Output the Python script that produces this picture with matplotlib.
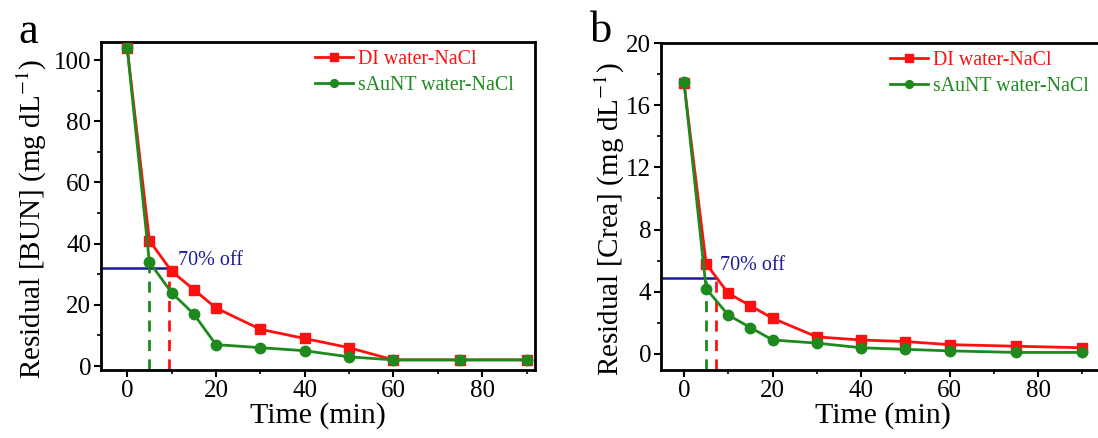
import matplotlib
matplotlib.use("Agg")
import matplotlib.pyplot as plt
from matplotlib.ticker import MultipleLocator

plt.rcParams["font.family"] = ["Liberation Serif", "DejaVu Serif"]
plt.rcParams["mathtext.fontset"] = "stix"

# Time points (min)
time = [0, 5, 10, 15, 20, 30, 40, 50, 60, 75, 90]

# Panel a: residual BUN (mg/dL)
bun_di = [104, 41, 31, 25, 19, 12, 9, 6, 2, 2, 2]
bun_saunt = [104, 34, 24, 17, 7, 6, 5, 3, 2, 2, 2]
bun_cut = 32          # 70% off level
bun_t_di = 9.5
bun_t_saunt = 5

# Panel b: residual creatinine (mg/dL)
crea_di = [17.4, 5.8, 3.9, 3.1, 2.3, 1.1, 0.9, 0.8, 0.6, 0.5, 0.4]
crea_saunt = [17.5, 4.2, 2.5, 1.7, 0.9, 0.7, 0.4, 0.3, 0.2, 0.1, 0.1]
crea_cut = 4.9
crea_t_di = 7.2
crea_t_saunt = 5

RED = "#ff1010"
GREEN = "#1e8a1e"
BLUE = "#1a1a96"


def style_axis(ax, ylabel, yticks, xlim, ylim, yminor):
    ax.set_xlim(*xlim)
    ax.set_ylim(*ylim)
    ax.set_xticks([0, 20, 40, 60, 80])
    ax.xaxis.set_minor_locator(MultipleLocator(10))
    ax.set_yticks(yticks)
    ax.yaxis.set_minor_locator(MultipleLocator(yminor))
    ax.tick_params(which="major", direction="out", length=5, width=1.5,
                   labelsize=18, pad=2, top=False, right=False)
    ax.tick_params(which="minor", direction="out", length=3, width=1.2,
                   top=False, right=False)
    for sp in ax.spines.values():
        sp.set_linewidth(2)
    ax.set_xlabel("Time (min)", fontsize=21.5, labelpad=0)
    ax.set_ylabel(ylabel, fontsize=21)


def draw_panel(ax, di, saunt, cut, t_di, t_saunt, xlim, ylim, leg_x):
    ax.plot(time, di, "-s", color=RED, lw=2, ms=7, label="DI water-NaCl",
            zorder=3)
    ax.plot(time, saunt, "-o", color=GREEN, lw=2, ms=7.5,
            label="sAuNT water-NaCl", zorder=4)
    ax.plot([xlim[0], t_di], [cut, cut], color=BLUE, lw=1.8, zorder=2)
    ax.plot([t_di, t_di], [ylim[0], cut], "--", color=RED, lw=2,
            dashes=(4, 3), zorder=2)
    ax.plot([t_saunt, t_saunt], [ylim[0], cut], "--", color=GREEN, lw=2,
            dashes=(4, 3), zorder=2)
    leg = ax.legend(loc="upper left", bbox_to_anchor=(leg_x, 0.975),
                    frameon=False, fontsize=14.3, handlelength=1.9,
                    handletextpad=0.25, markerscale=0.75, borderpad=0,
                    borderaxespad=0, labelspacing=0.35)
    for txt, c in zip(leg.get_texts(), [RED, GREEN]):
        txt.set_color(c)


fig = plt.figure(figsize=(10.98, 4.38), dpi=100)

# panel a
xlim_a = (-5.9, 91.9)
ylim_a = (-1.3, 105.9)
ax1 = fig.add_axes([101 / 1098, 1 - 370 / 438, 434 / 1098, 328 / 438])
draw_panel(ax1, bun_di, bun_saunt, bun_cut, bun_t_di, bun_t_saunt,
           xlim_a, ylim_a, 0.493)
style_axis(ax1, r"Residual [BUN] (mg dL$^{-1}$)", [0, 20, 40, 60, 80, 100],
           xlim_a, ylim_a, 10)
ax1.yaxis.set_label_coords(-0.12, 0.46)
ax1.text(11.5, 33, "70% off", color=BLUE, fontsize=14.5)
fig.text(18 / 1098, 1 - 43 / 438, "a", fontsize=32)

# panel b
xlim_b = (-5.2, 95.1)
ylim_b = (-1.03, 20)
ax2 = fig.add_axes([661 / 1098, 1 - 370 / 438, 444 / 1098, 327 / 438])
draw_panel(ax2, crea_di, crea_saunt, crea_cut, crea_t_di, crea_t_saunt,
           xlim_b, ylim_b, 0.516)
style_axis(ax2, r"Residual [Crea] (mg dL$^{-1}$)", [0, 4, 8, 12, 16, 20],
           xlim_b, ylim_b, 2)
ax2.yaxis.set_label_coords(-0.076, 0.46)
ax2.text(8.1, 5.4, "70% off", color=BLUE, fontsize=14.5)
fig.text(590 / 1098, 1 - 42 / 438, "b", fontsize=32)

fig.savefig("out.png", dpi=100)
